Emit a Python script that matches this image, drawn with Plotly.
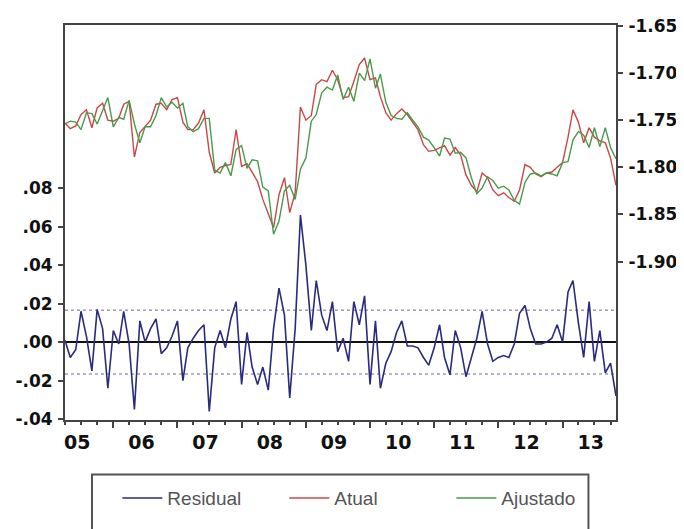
import pandas as pd
import plotly.graph_objects as go

# Monthly observations 2005M04 .. 2013M11
months = pd.date_range("2005-04-01", periods=104, freq="MS")

atual = [
    -1.753, -1.759, -1.756, -1.744, -1.739, -1.758, -1.737, -1.732, -1.750, -1.751,
    -1.748, -1.733, -1.730, -1.789, -1.763, -1.757, -1.750, -1.733, -1.732, -1.739,
    -1.728, -1.726, -1.752, -1.760, -1.760, -1.753, -1.739, -1.784, -1.806, -1.800,
    -1.798, -1.797, -1.760, -1.799, -1.796, -1.805, -1.815, -1.834, -1.850, -1.864,
    -1.829, -1.811, -1.848, -1.827, -1.736, -1.750, -1.745, -1.712, -1.707, -1.709,
    -1.697, -1.707, -1.726, -1.725, -1.709, -1.691, -1.684, -1.707, -1.705, -1.725,
    -1.742, -1.750, -1.743, -1.738, -1.744, -1.752, -1.760, -1.776, -1.783, -1.782,
    -1.779, -1.777, -1.787, -1.779, -1.787, -1.808, -1.819, -1.826, -1.806, -1.811,
    -1.824, -1.830, -1.827, -1.832, -1.836, -1.824, -1.797, -1.800, -1.807, -1.810,
    -1.806, -1.805, -1.800, -1.795, -1.768, -1.739, -1.752, -1.774, -1.758, -1.768,
    -1.772, -1.774, -1.790, -1.819,
]

ajustado = [
    -1.754, -1.751, -1.752, -1.760, -1.742, -1.743, -1.754, -1.739, -1.726, -1.757,
    -1.747, -1.749, -1.729, -1.754, -1.774, -1.757, -1.757, -1.745, -1.726, -1.736,
    -1.731, -1.737, -1.732, -1.757, -1.762, -1.759, -1.748, -1.748, -1.803, -1.806,
    -1.795, -1.809, -1.781, -1.777, -1.801, -1.792, -1.793, -1.821, -1.825, -1.871,
    -1.857, -1.825, -1.819, -1.834, -1.802, -1.790, -1.751, -1.744, -1.721, -1.715,
    -1.718, -1.702, -1.728, -1.715, -1.730, -1.700, -1.708, -1.685, -1.716, -1.701,
    -1.731, -1.745, -1.748, -1.749, -1.742, -1.750, -1.757, -1.768, -1.771, -1.779,
    -1.788, -1.769, -1.770, -1.785, -1.784, -1.790, -1.811, -1.828, -1.822, -1.810,
    -1.814, -1.822, -1.820, -1.824, -1.835, -1.839, -1.816, -1.807, -1.806, -1.809,
    -1.806, -1.807, -1.809, -1.795, -1.794, -1.771, -1.762, -1.766, -1.779, -1.758,
    -1.778, -1.758, -1.779, -1.791,
]

residual = [
    0.001, -0.008, -0.004, 0.016, 0.003, -0.015, 0.017, 0.007, -0.024, 0.006,
    -0.001, 0.016, -0.001, -0.035, 0.011, 0.000, 0.007, 0.012, -0.006, -0.003,
    0.003, 0.011, -0.020, -0.003, 0.002, 0.006, 0.009, -0.036, -0.003, 0.006,
    -0.003, 0.012, 0.021, -0.022, 0.005, -0.013, -0.022, -0.013, -0.025, 0.007,
    0.028, 0.014, -0.029, 0.007, 0.066, 0.040, 0.006, 0.032, 0.014, 0.006,
    0.021, -0.005, 0.002, -0.010, 0.021, 0.009, 0.024, -0.022, 0.011, -0.024,
    -0.011, -0.005, 0.005, 0.011, -0.002, -0.002, -0.003, -0.008, -0.012, -0.003,
    0.009, -0.008, -0.017, 0.006, -0.003, -0.018, -0.008, 0.002, 0.016, -0.001,
    -0.010, -0.008, -0.007, -0.008, -0.001, 0.015, 0.019, 0.007, -0.001, -0.001,
    0.000, 0.002, 0.009, 0.000, 0.026, 0.032, 0.010, -0.008, 0.021, -0.010,
    0.006, -0.016, -0.011, -0.028,
]

resid_sd = 0.0166  # dotted bands at +/- one standard error

year_labels = ["05", "06", "07", "08", "09", "10", "11", "12", "13"]
label_pos = pd.to_datetime([f"20{y}-06-10" for y in year_labels])
year_ticks = pd.to_datetime([f"20{y}-01-01" for y in year_labels[1:]])

left_ticks = [-0.04, -0.02, 0.00, 0.02, 0.04, 0.06, 0.08]
left_text = ["-.04", "-.02", ".00", ".02", ".04", ".06", ".08"]
right_ticks = [-1.90, -1.85, -1.80, -1.75, -1.70, -1.65]
right_text = ["-1.90", "-1.85", "-1.80", "-1.75", "-1.70", "-1.65"]

frame = "#444444"
tickfont = dict(family="DejaVu Sans", size=17, color="#111111", weight="bold")

fig = go.Figure()
fig.add_trace(go.Scatter(x=months, y=residual, name="Residual", mode="lines",
                         line=dict(color="#2B2B7E", width=1.6), xaxis="x", yaxis="y"))
fig.add_trace(go.Scatter(x=months, y=atual, name="Atual", mode="lines",
                         line=dict(color="#C84848", width=1.4), xaxis="x2", yaxis="y2"))
fig.add_trace(go.Scatter(x=months, y=ajustado, name="Ajustado", mode="lines",
                         line=dict(color="#4A9A4A", width=1.4), xaxis="x2", yaxis="y2"))

for s in (resid_sd, -resid_sd):
    fig.add_shape(type="line", xref="paper", x0=0, x1=1, yref="y", y0=s, y1=s,
                  line=dict(color="#6A6A9A", width=1, dash="dot"), layer="below")

# legend frame
fig.add_shape(type="rect", xref="paper", yref="paper", x0=0.049, x1=0.950,
              y0=-0.30, y1=-0.138, line=dict(color="#555555", width=2))

rng = [months[0], months[-1]]

# the page body adds an 8px offset, so the figure is sized to the remaining viewport
fig.update_layout(
    width=676, height=521,
    margin=dict(l=57, r=68, t=17, b=106),
    paper_bgcolor="white", plot_bgcolor="white",
    showlegend=True,
    legend=dict(orientation="h", x=0.095, xanchor="left", y=-0.198, yanchor="middle",
                font=dict(family="Liberation Sans", size=19, color="#555555"),
                bgcolor="rgba(0,0,0,0)", itemwidth=40, entrywidth=112,
                entrywidthmode="pixels", tracegroupgap=0),
    xaxis=dict(type="date", range=rng, tickmode="array", tickvals=label_pos,
               ticktext=year_labels, ticks="", ticklen=0, ticklabelstandoff=4,
               tickfont=dict(family="DejaVu Sans", size=19, color="#111111", weight="bold"),
               showline=True, linecolor=frame, linewidth=2, mirror=True,
               showgrid=False, zeroline=False, automargin=False),
    xaxis2=dict(type="date", range=rng, overlaying="x", anchor="y", side="bottom",
                tickmode="array", tickvals=year_ticks, ticks="outside", ticklen=7,
                tickwidth=1.5, tickcolor=frame, showticklabels=False,
                minor=dict(dtick="M3", tick0="2005-01-01", ticks="outside", ticklen=4,
                           tickwidth=1.5, tickcolor=frame),
                showline=False, showgrid=False, zeroline=False, automargin=False),
    yaxis=dict(range=[-0.0405, 0.1648], tickmode="array", tickvals=left_ticks,
               ticktext=left_text, ticks="outside", ticklen=5, tickwidth=1.5,
               tickcolor=frame, tickfont=tickfont, ticklabelstandoff=2,
               showline=True, linecolor=frame,
               linewidth=2, showgrid=False, zeroline=True, zerolinecolor="#111111",
               zerolinewidth=1.5, automargin=False),
    yaxis2=dict(range=[-2.068, -1.649], overlaying="y", side="right", anchor="x2",
                tickmode="array", tickvals=right_ticks, ticktext=right_text,
                ticks="outside", ticklen=5, tickwidth=1.5, tickcolor=frame,
                tickfont=tickfont, ticklabelstandoff=2, showline=True,
                linecolor=frame, linewidth=2,
                showgrid=False, zeroline=False, automargin=False),
)

fig.write_html("out.html")
